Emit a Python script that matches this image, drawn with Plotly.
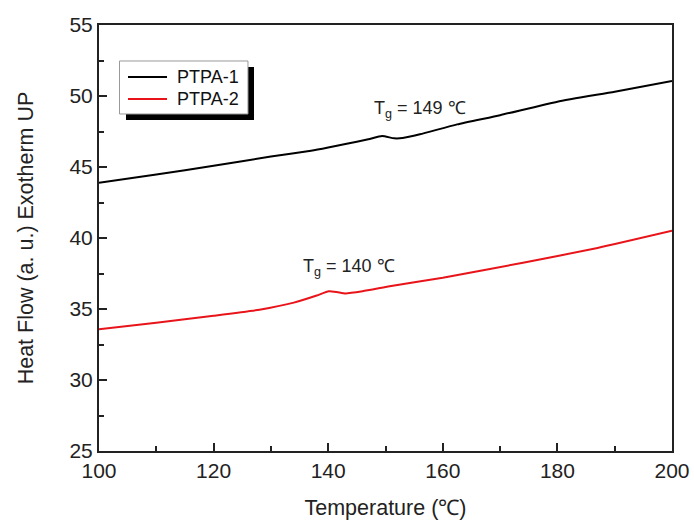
import plotly.graph_objects as go

# DSC heating traces (temperature in degC, heat flow in a.u.)
temp_ptpa1 = [100, 110, 120, 130, 137, 140, 143, 147, 149.4, 151.5, 153, 156, 162.5, 170, 180, 190, 200]
flow_ptpa1 = [43.89, 44.47, 45.08, 45.74, 46.14, 46.37, 46.62, 46.95, 47.18, 47.02, 47.04, 47.3, 48.0, 48.65, 49.6, 50.3, 51.05]

temp_ptpa2 = [100, 110, 120, 128, 134, 138, 140.1, 141.5, 143, 146, 151, 160, 174, 187, 200]
flow_ptpa2 = [33.57, 34.03, 34.52, 34.95, 35.45, 35.95, 36.25, 36.2, 36.1, 36.25, 36.62, 37.2, 38.26, 39.3, 40.51]

series_names = ["PTPA-1", "PTPA-2"]
series_colors = ["#000000", "#e8141a"]

# Glass transition labels: (x, y, text)
tg_labels = [
    (156.1, 49.05, "T<sub>g</sub> = 149 \u2103"),
    (143.7, 37.95, "T<sub>g</sub> = 140 \u2103"),
]

x_ticks = [100, 120, 140, 160, 180, 200]
y_ticks = [25, 30, 35, 40, 45, 50, 55]

FONT = "Liberation Sans, Arial, sans-serif"
INK = "#222222"

fig = go.Figure()
for t, f, name, color in zip([temp_ptpa1, temp_ptpa2], [flow_ptpa1, flow_ptpa2], series_names, series_colors):
    fig.add_trace(go.Scatter(
        x=t, y=f, mode="lines", name=name, showlegend=False,
        line=dict(color=color, width=2, shape="spline", smoothing=0.5),
    ))

for x, y, text in tg_labels:
    fig.add_annotation(x=x, y=y, text=text, showarrow=False,
                       font=dict(family=FONT, size=18, color=INK))

# Boxed key with a drop shadow, in paper coordinates
KEY_BOX = (0.0358, 0.2600, 0.7911, 0.9155)      # x0, x1, y0, y1
KEY_SHADOW = (0.0471, 0.2705, 0.7770, 0.9014)
KEY_LINE_X = (0.0506, 0.1187)
KEY_ROWS_Y = [0.8779, 0.8263]
KEY_TEXT_X = 0.1326

fig.add_shape(type="rect", xref="paper", yref="paper",
              x0=KEY_SHADOW[0], x1=KEY_SHADOW[1], y0=KEY_SHADOW[2], y1=KEY_SHADOW[3],
              fillcolor="black", line=dict(width=0), layer="above")
fig.add_shape(type="rect", xref="paper", yref="paper",
              x0=KEY_BOX[0], x1=KEY_BOX[1], y0=KEY_BOX[2], y1=KEY_BOX[3],
              fillcolor="white", line=dict(color="#999999", width=1), layer="above")
for name, color, ky in zip(series_names, series_colors, KEY_ROWS_Y):
    fig.add_shape(type="line", xref="paper", yref="paper",
                  x0=KEY_LINE_X[0], x1=KEY_LINE_X[1], y0=ky, y1=ky,
                  line=dict(color=color, width=2), layer="above")
    fig.add_annotation(xref="paper", yref="paper", x=KEY_TEXT_X, y=ky,
                       xanchor="left", yanchor="middle", text=name, showarrow=False,
                       font=dict(family=FONT, size=18, color="#111111"))

axis_common = dict(
    showgrid=False, zeroline=False, showline=True, linecolor=INK, linewidth=2,
    mirror=True, ticks="inside", tickcolor=INK, tickwidth=1.5, ticklen=8,
    tickfont=dict(family=FONT, size=21, color=INK), automargin=False,
)

fig.update_xaxes(
    range=[100, 200], tickvals=x_ticks,
    title=dict(text="Temperature (\u2103)", font=dict(family=FONT, size=21.5, color=INK), standoff=19),
    minor=dict(ticks="inside", dtick=10, ticklen=5, tickcolor=INK, tickwidth=1.5),
    **axis_common,
)
fig.update_yaxes(
    range=[25, 55], tickvals=y_ticks,
    title=dict(text="Heat Flow (a. u.) Exotherm UP", font=dict(family=FONT, size=21.5, color=INK), standoff=30),
    minor=dict(ticks="inside", dtick=2.5, tick0=25, ticklen=5, tickcolor=INK, tickwidth=1.5),
    **axis_common,
)

fig.update_layout(
    width=694, height=523,
    margin=dict(l=99, r=22, t=25, b=72),
    plot_bgcolor="white", paper_bgcolor="white",
    showlegend=False,
)

fig.write_html("out.html")
